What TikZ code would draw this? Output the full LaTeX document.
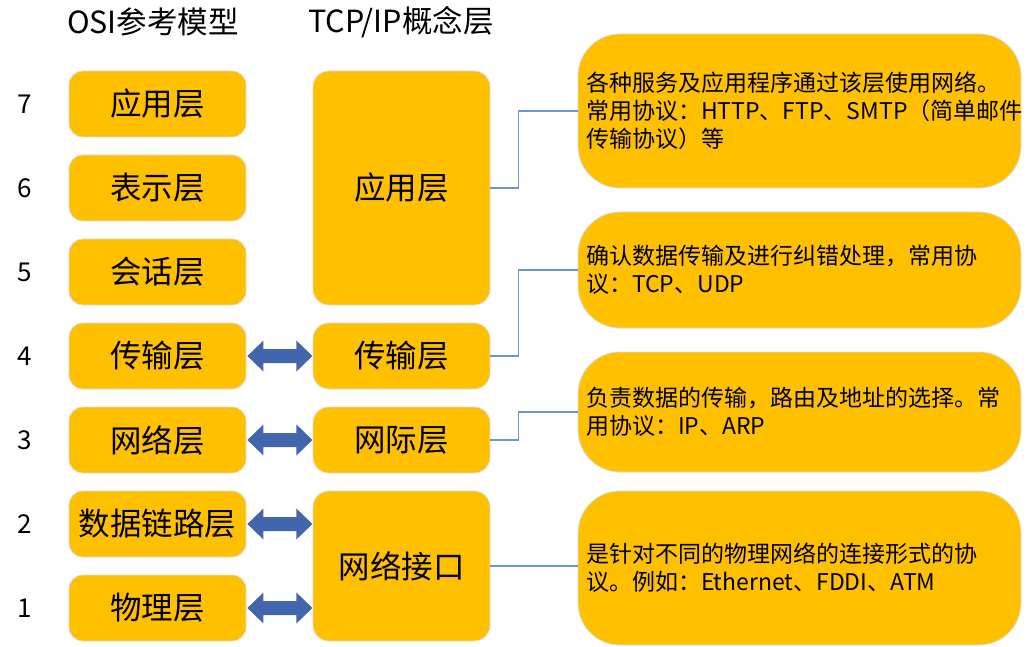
\documentclass[tikz,border=0pt]{standalone}
\usepackage{fontspec}
\setmainfont{Noto Sans CJK SC}
\usetikzlibrary{calc}

\definecolor{layerfill}{HTML}{FFC000}
\definecolor{layeredge}{HTML}{DADADA}
\definecolor{linkblue}{HTML}{6F93D6}
\definecolor{arrowblue}{HTML}{4266AE}

\tikzset{
  osibox/.style={draw=layeredge, fill=layerfill, line width=0.8pt,
    rounded corners=14pt, minimum width=177pt, minimum height=66pt,
    inner sep=0pt, font=\fontsize{31.5}{36}\selectfont},
  tcpbox/.style={osibox, rounded corners=16pt},
  notebox/.style={draw=layeredge, fill=layerfill, line width=0.8pt,
    rounded corners=42pt, text width=427pt, inner xsep=8pt, inner ysep=0pt,
    align=left, font=\fontsize{23}{28}\selectfont},
  numlabel/.style={font=\fontsize{26}{30}\selectfont},
  header/.style={font=\fontsize{30.5}{34}\selectfont},
  link/.style={draw=linkblue, line width=1.1pt},
}

% double-headed block arrow starting at the east side of a node
\newcommand\layerarrow[1]{%
  \fill[arrowblue] ([xshift=1pt]#1.east) -- ++(16,-15.5) -- ++(0,8.5)
    -- ++(33,0) -- ++(0,-8.5) -- ++(16,15.5) -- ++(-16,15.5) -- ++(0,-8.5)
    -- ++(-33,0) -- ++(0,8.5) -- cycle;}

\begin{document}
\begin{tikzpicture}[x=1pt, y=-1pt]
\useasboundingbox (0,0) rectangle (1028,647);

% column headings
\node[header] (hosi) at (153,22) {OSI参考模型};
\node[header] (htcp) at (401,22) {TCP/IP概念层};

% OSI layers with their numbers
\foreach \n/\y/\t in {7/104/应用层, 6/188/表示层, 5/272/会话层, 4/356/传输层,
                      3/440/网络层, 2/524/数据链路层, 1/608/物理层} {
  \node[numlabel] (N\n) at (25,\y) {\n};
  \node[osibox] (L\n) at (157.5,\y) {\t};
}

% TCP/IP layers
\node[tcpbox, minimum height=234pt] (Mapp) at (401.5,188) {应用层};
\node[tcpbox] (Mtrans) at (401.5,356) {传输层};
\node[tcpbox] (Mnet) at (401.5,440) {网际层};
\node[tcpbox, minimum height=150pt] (Mlink) at (401.5,566) {网络接口};

% correspondences between the two models
\layerarrow{L4}
\layerarrow{L3}
\layerarrow{L2}
\layerarrow{L1}

% descriptions
\node[notebox, minimum height=154pt] (R1) at (799.5,111)
  {各种服务及应用程序通过该层使用网络。\\常用协议：HTTP、FTP、SMTP（简单邮件\\传输协议）等};
\node[notebox, minimum height=116pt] (R2) at (799.5,270)
  {确认数据传输及进行纠错处理，常用协\\议：TCP、UDP};
\node[notebox, minimum height=120pt] (R3) at (799.5,412)
  {负责数据的传输，路由及地址的选择。常\\用协议：IP、ARP};
\node[notebox, minimum height=154pt] (R4) at (799.5,568)
  {是针对不同的物理网络的连接形式的协\\议。例如：Ethernet、FDDI、ATM};

% leader lines
\draw[link] (Mapp.east) -- ++(28,0) |- (R1.west);
\draw[link] (Mtrans.east) -- ++(28,0) |- (R2.west);
\draw[link] (Mnet.east) -- ++(28,0) |- (R3.west);
\draw[link] (Mlink.east) -- (Mlink.east -| R4.west);
\end{tikzpicture}
\end{document}
